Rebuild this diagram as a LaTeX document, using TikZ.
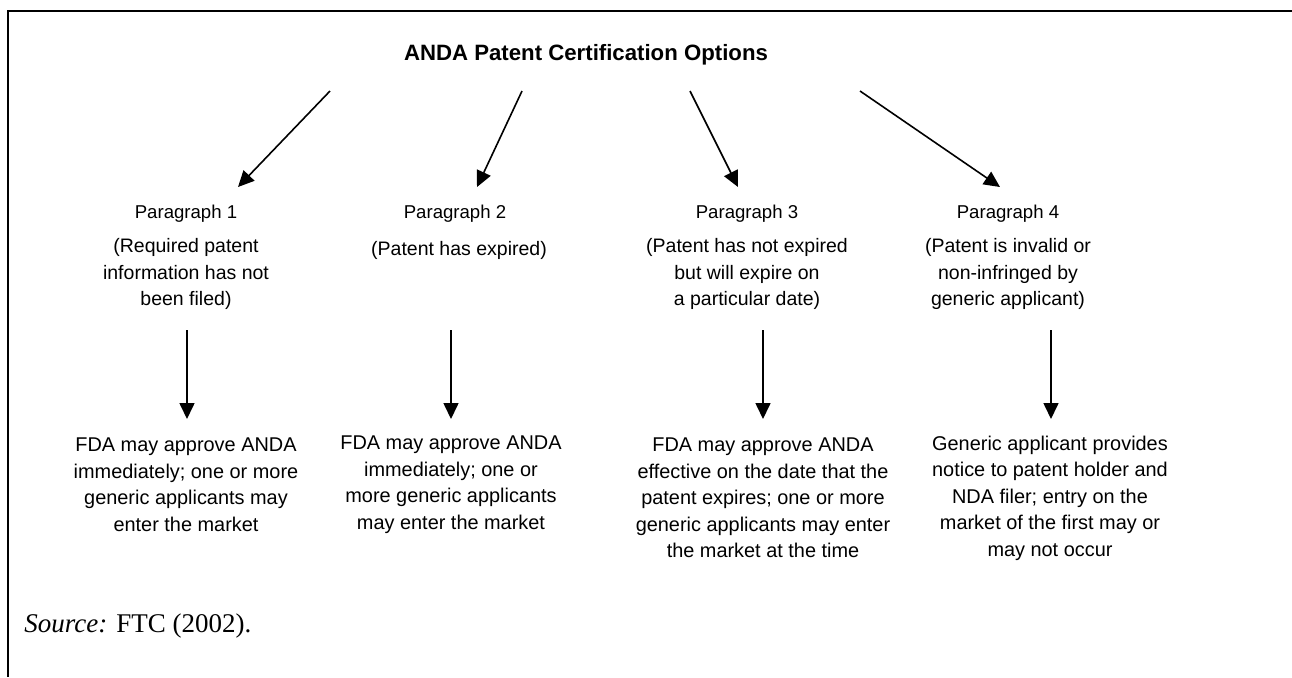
\documentclass[tikz,border=0pt]{standalone}
\usepackage{fontspec}
\setmainfont{Liberation Serif}
\newfontfamily\arial{Liberation Sans}
\usetikzlibrary{arrows.meta}
\begin{document}
\begin{tikzpicture}[x=0.5pt,y=-0.5pt,
  txt/.style={font=\arial\fontsize{9.75}{13.25}\selectfont, align=center, inner sep=0},
  otxt/.style={font=\arial\fontsize{9.95}{13.25}\selectfont, align=center, inner sep=0},
  lbl/.style={font=\arial\fontsize{9.3}{13.25}\selectfont, align=center, inner sep=0},
  arr/.style={line width=0.8pt, -{Triangle[length=8pt,width=7.5pt]}}]
\useasboundingbox (0,0) rectangle (1292,677);
\draw[line width=1pt] (1292,11) -- (8,11) -- (8,677);
\node[font=\arial\bfseries\fontsize{11.1}{13}\selectfont, inner sep=0] (title) at (586,55) {ANDA Patent Certification Options};
% paragraph labels
\node[lbl] (p1) at (186,214) {Paragraph 1};
\node[lbl] (p2) at (455,214) {Paragraph 2};
\node[lbl] (p3) at (747,214) {Paragraph 3};
\node[lbl] (p4) at (1008,214) {Paragraph 4};
% descriptions
\node[txt] (d1) at (186,274) {(Required patent\\information has not\\been filed)};
\node[txt] (d2) at (459,250) {(Patent has expired)};
\node[txt] (d3) at (747,274) {(Patent has not expired\\but will expire on\\a particular date)};
\node[txt] (d4) at (1008,274) {(Patent is invalid or\\non-infringed by\\generic applicant)};
% outcomes
\node[otxt] (o1) at (186,484.5) {FDA may approve ANDA\\immediately; one or more\\generic applicants may\\enter the market};
\node[otxt] (o2) at (451,484.5) {FDA may approve ANDA\\immediately; one or\\more generic applicants\\may enter the market};
\node[otxt] (o3) at (763,498) {FDA may approve ANDA\\effective on the date that the\\patent expires; one or more\\generic applicants may enter\\the market at the time};
\node[otxt] (o4) at (1050,498) {Generic applicant provides\\notice to patent holder and\\NDA filer; entry on the\\market of the first may or\\may not occur};
\node[font=\fontsize{13.5}{16}\selectfont, anchor=west, inner sep=0] (src) at (24,626) {\textit{Source:} FTC (2002).};
% coordinates
\coordinate (s1) at (330,91); \coordinate (e1) at (238,187);
\coordinate (s2) at (522,91); \coordinate (e2) at (477,187);
\coordinate (s3) at (690,91); \coordinate (e3) at (738,187);
\coordinate (s4) at (860,91); \coordinate (e4) at (1000,187);
\coordinate (v1a) at (187,330); \coordinate (v1b) at (187,419);
\coordinate (v2a) at (451,330); \coordinate (v2b) at (451,419);
\coordinate (v3a) at (763,330); \coordinate (v3b) at (763,419);
\coordinate (v4a) at (1051,330); \coordinate (v4b) at (1051,419);
\draw[arr] (s1) -- (e1);
\draw[arr] (s2) -- (e2);
\draw[arr] (s3) -- (e3);
\draw[arr] (s4) -- (e4);
\draw[arr] (v1a) -- (v1b);
\draw[arr] (v2a) -- (v2b);
\draw[arr] (v3a) -- (v3b);
\draw[arr] (v4a) -- (v4b);
\end{tikzpicture}
\end{document}
